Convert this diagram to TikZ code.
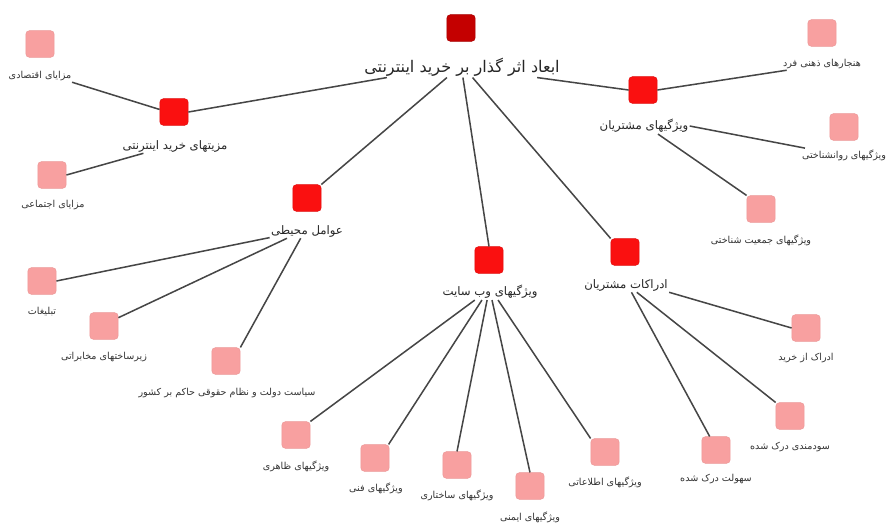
\documentclass[tikz,border=0pt]{standalone}
\usepackage{fontspec}
\newfontfamily\fa[Script=Arabic]{DejaVu Sans}
\TeXXeTstate=1
\definecolor{rootred}{RGB}{196,0,0}
\definecolor{midred}{RGB}{250,16,16}
\definecolor{leafpink}{RGB}{248,160,160}
\definecolor{edgegray}{RGB}{70,70,70}
\tikzset{
  box/.style={rectangle, rounded corners=3pt, minimum width=0.85cm, minimum height=0.8cm, inner sep=0pt},
  rootbox/.style={box, fill=rootred, draw=rootred!85!black},
  midbox/.style={box, fill=midred, draw=midred!90!black},
  leafbox/.style={box, fill=leafpink, draw=leafpink!95!black},
  leaftext/.style={inner sep=1pt, text=black!80, font=\fa\fontsize{8.2}{9}\selectfont},
  midtext/.style={inner sep=1pt, text=black!85, font=\fa\fontsize{10}{11}\selectfont},
  roottext/.style={inner sep=1pt, text=black!85, font=\fa\fontsize{13.7}{15}\selectfont}
}
\begin{document}
\begin{tikzpicture}[x=0.03cm, y=-0.03cm]
  \useasboundingbox (0,0) rectangle (887,524);
  \node[rootbox] (r) at (461,28) {};
  \node[roottext] (rt) at (462,67) {\beginR ابعاد اثر گذار بر خرید اینترنتی\endR};

  \node[midbox] (a) at (174,112) {};
  \node[midtext] (at) at (175,146) {\beginR مزیتهای خرید اینترنتی\endR};
  \node[leafbox] (a1) at (40,44) {};
  \node[leaftext] (a1t) at (40,76) {\beginR مزایای اقتصادی\endR};
  \node[leafbox] (a2) at (52,175) {};
  \node[leaftext] (a2t) at (53,205) {\beginR مزایای اجتماعی\endR};

  \node[midbox] (b) at (307,198) {};
  \node[midtext] (bt) at (307,231) {\beginR عوامل محیطی\endR};
  \node[leafbox] (b1) at (42,281) {};
  \node[leaftext] (b1t) at (42,312) {\beginR تبلیغات\endR};
  \node[leafbox] (b2) at (104,326) {};
  \node[leaftext] (b2t) at (104,357) {\beginR زیرساختهای مخابراتی\endR};
  \node[leafbox] (b3) at (226,361) {};
  \node[leaftext] (b3t) at (227,393) {\beginR سیاست دولت و نظام حقوقی حاکم بر کشور\endR};

  \node[midbox] (c) at (489,260) {};
  \node[midtext] (ct) at (490,292) {\beginR ویژگیهای وب سایت\endR};
  \node[leafbox] (c1) at (296,435) {};
  \node[leaftext] (c1t) at (296,466) {\beginR ویژگیهای ظاهری\endR};
  \node[leafbox] (c2) at (375,458) {};
  \node[leaftext] (c2t) at (376,488) {\beginR ویژگیهای فنی\endR};
  \node[leafbox] (c3) at (457,465) {};
  \node[leaftext] (c3t) at (457,495) {\beginR ویژگیهای ساختاری\endR};
  \node[leafbox] (c4) at (530,486) {};
  \node[leaftext] (c4t) at (530,517) {\beginR ویژگیهای ایمنی\endR};
  \node[leafbox] (c5) at (605,452) {};
  \node[leaftext] (c5t) at (605,482) {\beginR ویژگیهای اطلاعاتی\endR};

  \node[midbox] (d) at (625,252) {};
  \node[midtext] (dt) at (626,285) {\beginR ادراکات مشتریان\endR};
  \node[leafbox] (d1) at (806,328) {};
  \node[leaftext] (d1t) at (806,358) {\beginR ادراک از خرید\endR};
  \node[leafbox] (d2) at (790,416) {};
  \node[leaftext] (d2t) at (790,447) {\beginR سودمندی درک شده\endR};
  \node[leafbox] (d3) at (716,450) {};
  \node[leaftext] (d3t) at (716,479) {\beginR سهولت درک شده\endR};

  \node[midbox] (e) at (643,90) {};
  \node[midtext] (et) at (644,126) {\beginR ویژگیهای مشتریان\endR};
  \node[leafbox] (e1) at (822,33) {};
  \node[leaftext] (e1t) at (822,64) {\beginR هنجارهای ذهنی فرد\endR};
  \node[leafbox] (e2) at (844,127) {};
  \node[leaftext] (e2t) at (844,155) {\beginR ویژگیهای روانشناختی\endR};
  \node[leafbox] (e3) at (761,209) {};
  \node[leaftext] (e3t) at (761,240) {\beginR ویژگیهای جمعیت شناختی\endR};

  \begin{scope}[edgegray, line width=1.3pt]
    \draw (rt.188) to (a.east);
    \draw (rt.215) to (b.north east);
    \draw (rt.275) to (c.north);
    \draw (rt.315) to (d.north west);
    \draw (rt.352) to (e.west);
    \draw (a1t.-11) to (a.170);
    \draw (a2.east) to (at.193);
    \draw (bt.190) to (b1.east);
    \draw (bt.200) to (b2.30);
    \draw (bt.229) to (b3.north east);
    \draw (ct.208) to (c1.north east);
    \draw (ct.225) to (c2.45);
    \draw (ct.250) to (c3.north);
    \draw (ct.284) to (c4.north);
    \draw (ct.315) to (c5.north west);
    \draw (dt.south east) to (d1.west);
    \draw (dt.326) to (d2.north west);
    \draw (dt.307) to (d3.115);
    \draw (e.east) to (e1t.190);
    \draw (et.east) to (e2t.170);
    \draw (et.330) to (e3.north west);
  \end{scope}
\end{tikzpicture}
\end{document}
